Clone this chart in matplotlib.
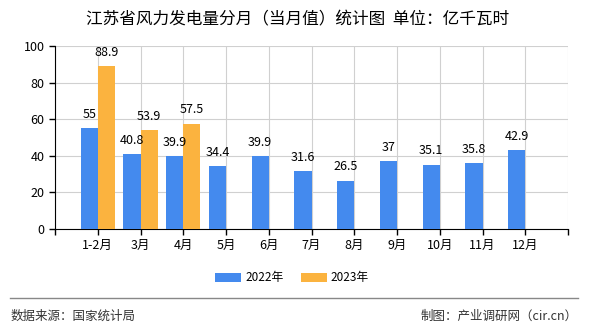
import numpy as np
import matplotlib.pyplot as plt

plt.rcParams['font.family'] = ['Noto Sans CJK SC', 'DejaVu Sans']

meses = ["1-2月", "3月", "4月", "5月", "6月", "7月", "8月", "9月", "10月", "11月", "12月"]
v2022 = [55, 40.8, 39.9, 34.4, 39.9, 31.6, 26.5, 37, 35.1, 35.8, 42.9]
v2023 = [88.9, 53.9, 57.5]
etiquetas = ["55", "40.8", "39.9", "34.4", "39.9", "31.6", "26.5", "37", "35.1", "35.8", "42.9"]
etiquetas23 = ["88.9", "53.9", "57.5"]

azul = "#448AEE"
naranja = "#FBB33F"

fig = plt.figure(figsize=(5.9, 3.3), dpi=100)
ax = fig.add_axes([55 / 590, 1 - 229 / 330, 513 / 590, 183 / 330])

x = np.arange(len(meses))
w = 0.4
ax.bar(x - w / 2, v2022, width=w, color=azul, label="2022年", zorder=3)
ax.bar(x[:len(v2023)] + w / 2, v2023, width=w, color=naranja, label="2023年", zorder=3)

for i, (v, t) in enumerate(zip(v2022, etiquetas)):
    ax.text(i - w / 2, v + 4, t, ha="center", va="bottom", fontsize=9)
for i, (v, t) in enumerate(zip(v2023, etiquetas23)):
    ax.text(i + w / 2, v + 4, t, ha="center", va="bottom", fontsize=9)

ax.set_xlim(-1, len(meses))
ax.set_ylim(0, 100)
ax.set_yticks(range(0, 101, 20))
ax.set_xticks(np.arange(-1, len(meses) + 1))
ax.set_xticklabels([""] + meses + [""])
ax.grid(True, color="#d0d0d0", lw=0.8, zorder=0)
ax.tick_params(labelsize=9, length=4, width=1)
ax.spines["top"].set_visible(False)
ax.spines["right"].set_visible(False)

fig.text(0.505, 1 - 20 / 330, "江苏省风力发电量分月（当月值）统计图  单位：亿千瓦时",
         ha="center", va="center", fontsize=12)

fig.legend(loc="center", bbox_to_anchor=(0.495, 1 - 278 / 330), ncol=2, frameon=False,
           fontsize=8.5, handlelength=2.2, handleheight=0.9, columnspacing=1.5, handletextpad=0.3)

fig.add_artist(plt.Line2D([10 / 590, 578 / 590], [1 - 298 / 330] * 2, color="#888888", lw=1))
fig.text(11 / 590, 1 - 316 / 330, "数据来源：国家统计局", ha="left", va="center", fontsize=9, color="#333333")
fig.text(578 / 590, 1 - 316 / 330, "制图：产业调研网（cir.cn）", ha="right", va="center", fontsize=9, color="#333333")

plt.savefig("out.png", dpi=100)
